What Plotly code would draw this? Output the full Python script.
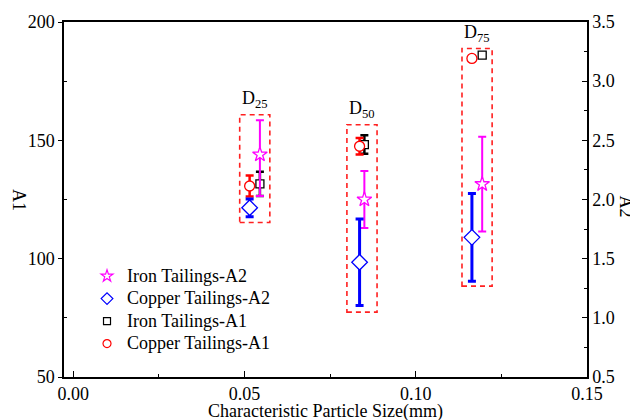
import plotly.graph_objects as go

# ---------------- data ----------------
labels = ["25", "50", "75"]
x_iron = [0.0545, 0.0850, 0.1194]
x_copper = [0.0515, 0.0836, 0.1164]

iron_A2 = [2.38, 2.00, 2.13]
iron_A2_err_plus = [0.29, 0.24, 0.40]
iron_A2_err_minus = [0.35, 0.24, 0.40]

copper_A2 = [1.93, 1.47, 1.68]
copper_A2_err = [0.075, 0.365, 0.37]

iron_A1 = [131.6, 148.2, 186.0]
iron_A1_err = [5.1, 3.9, 1.0]

copper_A1 = [130.7, 147.5, 184.6]
copper_A1_err = [4.4, 3.5, 1.0]

box_A1_low = [115.3, 77.4, 88.4]
box_A1_high = [160.8, 156.6, 188.8]
box_half_width = 0.0044

FONT = "Liberation Serif"
FS = 18

series = [
    dict(name="Iron Tailings-A2", x=x_iron, y=iron_A2, axis="y2", symbol="star",
         color="#ff00ff", size=11, lsize=9,
         err=dict(type="data", symmetric=False, array=iron_A2_err_plus,
                  arrayminus=iron_A2_err_minus, thickness=2, width=4)),
    dict(name="Copper Tailings-A2", x=x_copper, y=copper_A2, axis="y2", symbol="diamond",
         color="#0000ff", size=12, lsize=9,
         err=dict(type="data", array=copper_A2_err, thickness=3, width=4)),
    dict(name="Iron Tailings-A1", x=x_iron, y=iron_A1, axis="y", symbol="square",
         color="black", size=8, lsize=7,
         err=dict(type="data", array=iron_A1_err, thickness=2.5, width=4)),
    dict(name="Copper Tailings-A1", x=x_copper, y=copper_A1, axis="y", symbol="circle",
         color="#ff0000", size=10, lsize=8,
         err=dict(type="data", array=copper_A1_err, thickness=2.5, width=4)),
]

fig = go.Figure()
for s in series:
    fig.add_trace(go.Scatter(
        x=s["x"], y=s["y"], yaxis=s["axis"], mode="markers", name=s["name"],
        showlegend=False,
        marker=dict(symbol=s["symbol"], size=s["size"], color="white",
                    line=dict(color=s["color"], width=1.3)),
        error_y=dict(color=s["color"], **s["err"]),
    ))
# legend entries (smaller symbols, like the reference legend)
for s in series:
    fig.add_trace(go.Scatter(
        x=[None], y=[None], yaxis=s["axis"], mode="markers",
        name=f"<span style='font-size:{FS}px'>{s['name']}</span>",
        marker=dict(symbol=s["symbol"], size=s["lsize"], color="white",
                    line=dict(color=s["color"], width=1.2)),
    ))

shapes = []
annotations = []
for i, lab in enumerate(labels):
    cx = (x_iron[i] + x_copper[i]) / 2
    shapes.append(dict(type="rect", xref="x", yref="y",
                       x0=cx - box_half_width, x1=cx + box_half_width,
                       y0=box_A1_low[i], y1=box_A1_high[i],
                       line=dict(color="#ff2020", width=1.6, dash="5px,4px"),
                       fillcolor="rgba(0,0,0,0)"))
    annotations.append(dict(x=cx, y=box_A1_high[i], xref="x", yref="y",
                            text=f"D<sub>{lab}</sub>", showarrow=False,
                            yanchor="bottom", yshift=2,
                            font=dict(family=FONT, size=FS, color="black")))

annotations += [
    dict(x=-0.085, y=0.5, xref="paper", yref="paper", text="A1", textangle=90,
         showarrow=False, xanchor="center", font=dict(family=FONT, size=FS, color="black")),
    dict(x=1.052, y=0.48, xref="paper", yref="paper", text="A2", textangle=90,
         showarrow=False, xanchor="left", font=dict(family=FONT, size=FS, color="black")),
    dict(x=0.5, y=-0.097, xref="paper", yref="paper", text="Characteristic Particle Size(mm)",
         showarrow=False, yanchor="middle", font=dict(family=FONT, size=FS, color="black")),
]

tickfont = dict(family=FONT, size=FS, color="black")
fig.update_layout(
    width=630, height=420,
    margin=dict(l=64, r=43, t=20, b=43),
    paper_bgcolor="white", plot_bgcolor="white",
    font=dict(family=FONT, size=FS, color="black"),
    showlegend=True,
    legend=dict(x=0.044, y=0.33, xanchor="left", yanchor="top",
                bgcolor="rgba(0,0,0,0)", font=dict(family=FONT, size=15),
                tracegroupgap=0, itemsizing="trace"),
    xaxis=dict(range=[-0.0027, 0.15], tickvals=[0, 0.05, 0.10, 0.15],
               ticktext=["0.00", "0.05", "0.10", "0.15"],
               showline=True, linecolor="black", linewidth=1.5, mirror=True,
               ticks="inside", ticklen=6, tickwidth=1.3, tickcolor="black",
               minor=dict(tickvals=[0.025, 0.075, 0.125], ticks="inside", ticklen=3,
                          tickcolor="black", tickwidth=1),
               showgrid=False, zeroline=False, tickfont=tickfont),
    yaxis=dict(range=[50, 200], tickvals=[50, 100, 150, 200],
               showline=True, linecolor="black", linewidth=1.5,
               ticks="outside", ticklen=4, tickwidth=1.3, tickcolor="black",
               minor=dict(tickvals=[75, 125, 175], ticks="inside", ticklen=3,
                          tickcolor="black", tickwidth=1),
               showgrid=False, zeroline=False, tickfont=tickfont),
    yaxis2=dict(range=[0.5, 3.5], tickvals=[0.5, 1.0, 1.5, 2.0, 2.5, 3.0, 3.5],
                ticktext=["0.5", "1.0", "1.5", "2.0", "2.5", "3.0", "3.5"],
                overlaying="y", side="right",
                showline=True, linecolor="black", linewidth=1.5,
                ticks="inside", ticklen=5, tickwidth=1.3, tickcolor="black",
                minor=dict(tickvals=[0.75, 1.25, 1.75, 2.25, 2.75, 3.25], ticks="inside",
                           ticklen=3, tickcolor="black", tickwidth=1),
                showgrid=False, zeroline=False, tickfont=tickfont),
    shapes=shapes,
    annotations=annotations,
)

fig.write_html("out.html")
